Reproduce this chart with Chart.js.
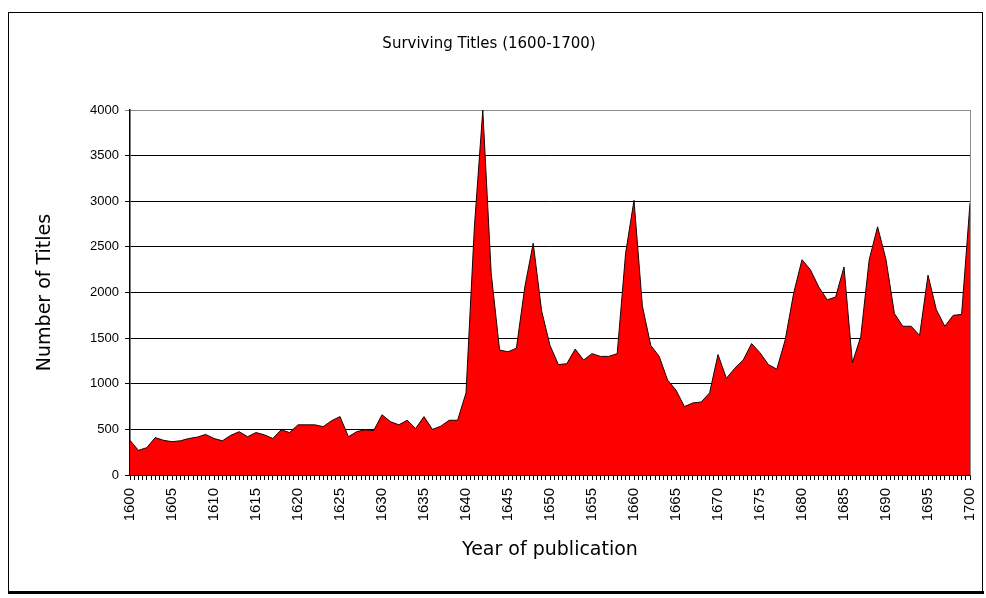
<!DOCTYPE html>
<html>
<head>
<meta charset="utf-8">
<script src="https://cdn.jsdelivr.net/npm/chart.js@4.4.1/dist/chart.umd.min.js"></script>
<style>
  html, body { margin: 0; padding: 0; background: #fff; }
  #wrap { width: 986px; height: 598px; }
</style>
</head>
<body>
<div id="wrap"><canvas id="myChart" width="986" height="598"></canvas></div>
<script>
// años 1600 - 1700, títulos por año
const years = [];
for (let y = 1600; y <= 1700; y++) years.push(y);

const titles = [
    380, 270, 300, 410, 380, 365, 375, 400, 415, 445,      // 1600-1609
    400, 375, 435, 475, 420, 465, 440, 400, 495, 465,      // 1610-1619
    550, 550, 550, 530, 595, 640, 420, 475, 495, 485,      // 1620-1629
    660, 585, 550, 600, 510, 640, 500, 535, 600, 600,      // 1630-1639
    900, 2720, 4000, 2210, 1370, 1350, 1390, 2060, 2540, 1800, // 1640-1649
    1420, 1210, 1220, 1380, 1260, 1330, 1300, 1300, 1330, 2430, // 1650-1659
    3010, 1850, 1420, 1300, 1040, 930, 750, 790, 800, 900,  // 1660-1669
    1320, 1060, 1170, 1260, 1440, 1340, 1210, 1160, 1480, 1990, // 1670-1679
    2360, 2250, 2060, 1920, 1950, 2280, 1230, 1520, 2360, 2720, // 1680-1689
    2360, 1770, 1630, 1630, 1530, 2190, 1810, 1630, 1750, 1760, // 1690-1699
    2980                                                    // 1700
];

const yTicks = [0, 500, 1000, 1500, 2000, 2500, 3000, 3500, 4000];
const xLabelEvery = 5;

// marco exterior y borde gris del área de trazado
const marco = {
    id: 'marco',
    afterDraw(chart) {
        const c = chart.ctx;
        const a = chart.chartArea;
        c.save();
        c.strokeStyle = '#000';
        c.lineWidth = 1;
        c.strokeRect(8.5, 12.5, 974, 579);
        c.lineWidth = 3;
        c.beginPath();
        c.moveTo(8, 592.5);
        c.lineTo(984, 592.5);
        c.stroke();
        c.strokeStyle = '#8c8c8c';
        c.lineWidth = 1;
        c.beginPath();
        c.moveTo(a.right + 0.5, a.top);
        c.lineTo(a.right + 0.5, a.bottom);
        c.stroke();
        c.restore();
    }
};

var ctx = document.getElementById('myChart').getContext('2d');
var myChart = new Chart(ctx, {
    type: 'line',
    data: {
        datasets: [{
            label: 'Titles',
            data: years.map((y, i) => ({ x: y, y: titles[i] })),
            fill: 'origin',
            backgroundColor: '#ff0000',
            borderColor: '#1a0000',
            borderWidth: 1,
            pointRadius: 0,
            tension: 0
        }]
    },
    options: {
        responsive: false,
        animation: false,
        layout: { padding: { left: 8, right: 16, top: 0, bottom: 0 } },
        plugins: {
            legend: { display: false },
            tooltip: { enabled: false },
            title: {
                display: true,
                text: 'Surviving Titles (1600-1700)',
                color: '#000',
                font: { family: 'DejaVu Sans', size: 15, weight: 'normal', lineHeight: 1.2 },
                padding: { top: 35, bottom: 57 }
            }
        },
        scales: {
            x: {
                type: 'linear',
                min: 1600,
                max: 1700,
                afterFit: s => { s.height = 123; s.paddingRight = 0; s.paddingLeft = 0; },
                ticks: {
                    stepSize: 0.5,
                    autoSkip: false,
                    minRotation: 90,
                    maxRotation: 90,
                    padding: 8,
                    color: '#000',
                    font: { family: 'Liberation Sans', size: 15 },
                    callback: v => (Number.isInteger(v) && v % xLabelEvery === 0) ? String(v) : ''
                },
                grid: {
                    drawOnChartArea: false,
                    drawTicks: true,
                    tickLength: 5,
                    color: '#000'
                },
                border: { color: '#000', width: 1.5 },
                title: {
                    display: true,
                    text: 'Year of publication',
                    color: '#000',
                    font: { family: 'DejaVu Sans', size: 19, lineHeight: 1.2 },
                    padding: { top: 0, bottom: 37 }
                }
            },
            y: {
                min: 0,
                max: 4000,
                afterFit: s => { s.width = 122; s.paddingTop = 0; s.paddingBottom = 0; },
                afterBuildTicks: s => { s.ticks = yTicks.map(v => ({ value: v })); },
                ticks: {
                    padding: 6,
                    color: '#000',
                    font: { family: 'Liberation Sans', size: 13 },
                    callback: v => String(v)
                },
                grid: {
                    color: c => (c.tick && c.tick.value === 4000) ? '#8c8c8c' : '#000',
                    lineWidth: 1,
                    tickLength: 5
                },
                border: { color: '#000', width: 1.5 },
                title: {
                    display: true,
                    text: 'Number of Titles',
                    color: '#000',
                    font: { family: 'DejaVu Sans', size: 19, lineHeight: 1.2 },
                    padding: { top: 26, bottom: 0 }
                }
            }
        }
    },
    plugins: [marco]
});
</script>
</body>
</html>
